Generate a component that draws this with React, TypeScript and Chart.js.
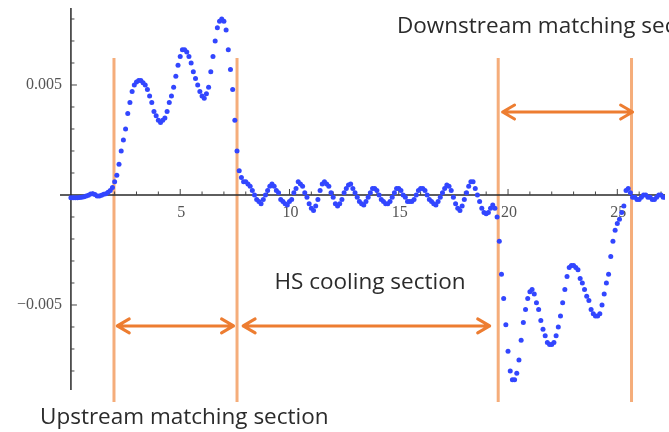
import React, { useEffect, useRef } from "react";
import { Chart, registerables } from "chart.js";

Chart.register(...registerables);

// sampling grid of the measured curve
const X_START = 0;
const X_STEP = 0.1;

// deviation values, one per grid step (x = 0.0 ... 27.2)
const yValues: number[] = [
  -0.00012, -0.00012, -0.00013, -0.00012, -0.00011, -0.0001, -0.00008, -0.00005, -0.00001, 0.00004,
  0.00006, 0.00002, -0.00004, -0.00004, -0.00001, 0.00003, 0.00006, 0.00012, 0.0002, 0.00034,
  0.0006, 0.0009, 0.0014, 0.002, 0.0025, 0.003, 0.0037, 0.0042, 0.0047, 0.005,
  0.00514, 0.0052, 0.0052, 0.0051, 0.005, 0.0048, 0.0045, 0.0042, 0.0038, 0.0036,
  0.0034, 0.0033, 0.0034, 0.0035, 0.0038, 0.0042, 0.0045, 0.0049, 0.0054, 0.0059,
  0.0063, 0.0066, 0.0066, 0.0065, 0.0063, 0.006, 0.0056, 0.0053, 0.005, 0.0047,
  0.0045, 0.0044, 0.0046, 0.0049, 0.0056, 0.0063, 0.007, 0.0076, 0.0079, 0.008,
  0.0079, 0.0075, 0.0066, 0.0057, 0.0048, 0.0034, 0.002, 0.0011, 0.0008, 0.0006,
  0.0006, 0.0005, 0.0004, 0.0002, 0, -0.0002, -0.0003, -0.0004, -0.0002, 0,
  0.0002, 0.0004, 0.0005, 0.0004, 0.0002, 0.0001, -0.0002, -0.0003, -0.0004, -0.00045,
  -0.0003, -0.0002, 0.0001, 0.0003, 0.0006, 0.0005, 0.0004, 0.0001, -0.0001, -0.0004,
  -0.0006, -0.0007, -0.0005, -0.0002, 0.0002, 0.0005, 0.0006, 0.0005, 0.0004, 0.0001,
  -0.0001, -0.0004, -0.0005, -0.0004, -0.0002, 0.0001, 0.0003, 0.00045, 0.0005, 0.0003,
  0.0001, -0.0001, -0.0003, -0.0004, -0.00045, -0.0003, -0.0001, 0.0001, 0.0003, 0.0003,
  0.0002, 0, -0.0002, -0.0003, -0.0004, -0.0004, -0.0003, -0.0001, 0.0001, 0.0003,
  0.0003, 0.0002, 0, -0.0001, -0.0003, -0.0003, -0.0003, -0.0002, 0, 0.0002,
  0.0003, 0.0003, 0.0002, 0, -0.0002, -0.0003, -0.0004, -0.00045, -0.0003, -0.0001,
  0.0001, 0.0003, 0.00045, 0.0004, 0.0002, -0.0001, -0.0004, -0.0006, -0.0007, -0.0005,
  -0.0002, 0.0001, 0.0004, 0.0006, 0.0006, 0.0003, 0, -0.0003, -0.0006, -0.0008,
  -0.00085, -0.0008, -0.0006, -0.00045, -0.0006, -0.001, -0.0021, -0.0036, -0.0047, -0.0059,
  -0.0071, -0.008, -0.0084, -0.0084, -0.0081, -0.0075, -0.0066, -0.0058, -0.0052, -0.0047,
  -0.0044, -0.0043, -0.0045, -0.0049, -0.0052, -0.0057, -0.0061, -0.0064, -0.0067, -0.0068,
  -0.0068, -0.0067, -0.0064, -0.006, -0.0055, -0.0049, -0.0043, -0.0037, -0.0033, -0.0032,
  -0.0032, -0.0033, -0.0034, -0.0038, -0.004, -0.0043, -0.0046, -0.0048, -0.0052, -0.0054,
  -0.0055, -0.0055, -0.0054, -0.005, -0.0045, -0.004, -0.0036, -0.0028, -0.0021, -0.0016,
  -0.0013, -0.0011, -0.0008, -0.0005, 0.0002, 0.0003, 0.0001, -0.0001, -0.0001, -0.0002,
  -0.0002, -0.0001, 0, 0, -0.0001, -0.0001, -0.0002, -0.0002, -0.0001, 0,
  0, -0.0001, -0.0001,
];

// axis tick labels
const xTickLabels = [5, 10, 15, 20, 25];
const yTickLabels = [0.005, -0.005];
const xMinorTicks = [1, 2, 3, 4, 5, 6, 7, 8, 9, 10, 11, 12, 13, 14, 15, 16, 17, 18, 19, 20, 21, 22, 23, 24, 25, 26, 27];
const yMinorTicks = [-0.008, -0.007, -0.006, -0.005, -0.004, -0.003, -0.002, -0.001, 0.001, 0.002, 0.003, 0.004, 0.005, 0.006, 0.007, 0.008];

// section boundaries (x) and section spans
const sectionBoundaries = [1.97, 7.6, 19.55, 25.65];
const sectionNames = ["Upstream matching section", "HS cooling section", "Downstream matching section"];
const arrowFrom = [2.12, 7.88, 19.75];
const arrowTo = [7.44, 19.16, 25.7];
const arrowLevel = [-0.00595, -0.00595, 0.00377];

function fmt(v: number) {
  const s = Math.abs(v).toFixed(3);
  return (v < 0 ? "\u2212" : "") + s;
}

const overlay = {
  id: "overlay",
  beforeDatasetsDraw(chart: any) {
    const { ctx, chartArea } = chart;
    const xs = chart.scales.x;
    const ys = chart.scales.y;
    const x0 = xs.getPixelForValue(0);
    const y0 = ys.getPixelForValue(0);
    ctx.save();
    // section boundaries
    ctx.strokeStyle = "#f5ad7a";
    ctx.lineWidth = 3;
    for (const b of sectionBoundaries) {
      const px = xs.getPixelForValue(b);
      ctx.beginPath();
      ctx.moveTo(px, 58);
      ctx.lineTo(px, 402);
      ctx.stroke();
    }
    // axes
    ctx.strokeStyle = "#2a2a2a";
    ctx.lineWidth = 1.5;
    ctx.beginPath();
    ctx.moveTo(chartArea.left, y0);
    ctx.lineTo(chartArea.right, y0);
    ctx.moveTo(x0, chartArea.top);
    ctx.lineTo(x0, chartArea.bottom);
    ctx.stroke();
    ctx.lineWidth = 1;
    ctx.strokeStyle = "#444";
    ctx.beginPath();
    for (const t of xMinorTicks) {
      const px = xs.getPixelForValue(t);
      const len = t % 5 === 0 ? 6 : 3.5;
      ctx.moveTo(px, y0);
      ctx.lineTo(px, y0 - len);
    }
    for (const t of yMinorTicks) {
      const py = ys.getPixelForValue(t);
      const len = Math.abs(Math.round(t * 1000)) % 5 === 0 ? 6 : 3.5;
      ctx.moveTo(x0, py);
      ctx.lineTo(x0 + len, py);
    }
    ctx.stroke();
    // tick labels
    ctx.fillStyle = "#555";
    ctx.font = '16px "Liberation Serif"';
    ctx.textAlign = "center";
    ctx.textBaseline = "middle";
    for (const t of xTickLabels) {
      ctx.fillText(String(t), xs.getPixelForValue(t) + 1, y0 + 18);
    }
    ctx.textAlign = "right";
    for (const t of yTickLabels) {
      ctx.fillText(fmt(t), x0 - 9, ys.getPixelForValue(t));
    }
    ctx.restore();
  },
  afterDatasetsDraw(chart: any) {
    const { ctx } = chart;
    const xs = chart.scales.x;
    const ys = chart.scales.y;
    ctx.save();
    ctx.strokeStyle = "#ed7d31";
    ctx.lineWidth = 3;
    ctx.lineCap = "round";
    ctx.lineJoin = "round";
    for (let i = 0; i < arrowFrom.length; i++) {
      const a = xs.getPixelForValue(arrowFrom[i]);
      const b = xs.getPixelForValue(arrowTo[i]);
      const py = ys.getPixelForValue(arrowLevel[i]);
      ctx.beginPath();
      ctx.moveTo(a, py);
      ctx.lineTo(b, py);
      ctx.moveTo(a + 12, py - 7);
      ctx.lineTo(a, py);
      ctx.lineTo(a + 12, py + 7);
      ctx.moveTo(b - 12, py - 7);
      ctx.lineTo(b, py);
      ctx.lineTo(b - 12, py + 7);
      ctx.stroke();
    }
    ctx.fillStyle = "#2b2b2b";
    ctx.font = '22.5px "Open Sans"';
    ctx.textBaseline = "middle";
    ctx.textAlign = "left";
    ctx.fillText(sectionNames[2], 397, 27);
    ctx.fillText(sectionNames[0], 40, 418);
    ctx.textAlign = "center";
    ctx.fillText(sectionNames[1], 370, 283);
    ctx.restore();
  },
};

export default function App() {
  const ref = useRef<HTMLCanvasElement | null>(null);
  useEffect(() => {
    if (!ref.current) return;
    const data = yValues.map((v, i) => ({ x: X_START + i * X_STEP, y: v }));
    const chart = new Chart(ref.current, {
      type: "scatter",
      data: {
        datasets: [
          {
            data,
            pointRadius: 2.5,
            pointBackgroundColor: "rgb(50,70,255)",
            pointBorderWidth: 0,
            showLine: false,
          },
        ],
      },
      options: {
        responsive: false,
        animation: false,
        devicePixelRatio: 1,
        layout: { padding: { left: 60, right: 0, top: 8, bottom: 42 } },
        scales: {
          x: { type: "linear", min: -0.5, max: 27.182, display: false },
          y: { type: "linear", min: -0.008864, max: 0.0085, display: false },
        },
        plugins: { legend: { display: false }, tooltip: { enabled: false } },
      },
      plugins: [overlay],
    });
    return () => chart.destroy();
  }, []);
  return (
    <div style={{ position: "fixed", left: 0, top: 0, width: 669, height: 432, background: "#fff" }}>
      <canvas ref={ref} width={669} height={432} />
    </div>
  );
}
